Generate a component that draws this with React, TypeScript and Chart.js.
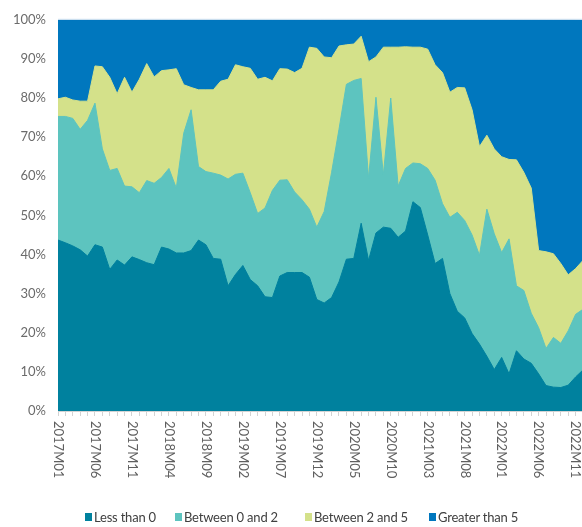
import React, { useEffect, useRef } from 'react';
import { Chart, registerables } from 'chart.js';

Chart.register(...registerables);

// Categories: monthly, 2017M01 .. 2022M12
const years = [2017, 2018, 2019, 2020, 2021, 2022];
const months: string[] = years.flatMap((y) =>
  Array.from({ length: 12 }, (_, m) => `${y}M${String(m + 1).padStart(2, '0')}`)
);
const labelEvery = 5;

const seriesNames = ['Less than 0', 'Between 0 and 2', 'Between 2 and 5', 'Greater than 5'];
const seriesColors = ['#00819E', '#5DC4BF', '#D4E18A', '#0077BE'];

// Shares (%) of each bucket per month (sum to 100)
const lessThan0 = [
  43.7, 43.0, 42.2, 41.2, 39.6, 42.5, 41.9, 36.2, 38.6, 37.3, 39.4, 38.7,
  37.9, 37.4, 41.9, 41.4, 40.4, 40.4, 41.0, 43.7, 42.5, 39.0, 38.8, 32.0,
  34.9, 37.2, 33.6, 32.0, 29.2, 29.0, 34.5, 35.4, 35.4, 35.4, 34.2, 28.5,
  27.6, 29.0, 33.0, 38.8, 39.0, 48.0, 38.5, 45.5, 47.0, 46.7, 44.4, 46.0,
  53.5, 52.0, 45.0, 37.7, 39.0, 30.0, 25.5, 23.8, 19.8, 17.1, 14.0, 10.6,
  13.7, 9.5, 15.4, 13.3, 12.2, 9.5, 6.5, 6.1, 6.0, 6.6, 8.7, 10.5,
];
const between0and2 = [
  31.6, 32.3, 32.6, 30.8, 34.7, 36.2, 25.1, 25.3, 23.4, 20.2, 17.9, 17.1,
  21.0, 20.8, 17.8, 20.6, 16.6, 30.6, 36.0, 18.8, 18.7, 21.8, 21.5, 27.3,
  25.6, 23.6, 22.2, 18.5, 22.7, 27.4, 24.5, 23.7, 20.6, 18.6, 17.4, 18.5,
  23.4, 32.0, 39.0, 44.7, 45.5, 37.0, 21.0, 34.7, 13.4, 33.3, 13.1, 16.0,
  9.9, 11.2, 17.0, 21.3, 14.0, 19.5, 25.3, 24.9, 25.2, 22.7, 37.6, 34.7,
  26.8, 34.5, 16.6, 17.5, 12.8, 11.8, 9.5, 12.7, 11.3, 13.9, 16.0, 15.5,
];
const between2and5 = [
  4.5, 4.9, 4.7, 7.2, 4.9, 9.5, 21.0, 23.8, 19.1, 27.8, 24.2, 29.0,
  29.9, 27.2, 27.3, 25.2, 30.5, 12.4, 5.7, 19.6, 20.9, 21.3, 24.0, 25.5,
  28.0, 27.2, 31.8, 34.3, 33.4, 28.0, 28.5, 28.3, 30.5, 33.6, 41.4, 45.7,
  39.5, 29.3, 21.3, 10.1, 9.3, 10.8, 29.8, 10.3, 32.6, 13.0, 35.5, 31.1,
  29.6, 29.8, 30.5, 29.5, 33.5, 32.0, 31.9, 33.9, 32.0, 27.8, 18.9, 21.7,
  24.5, 20.3, 32.2, 30.2, 32.0, 19.7, 24.7, 21.4, 20.4, 14.3, 11.7, 12.5,
];
const greaterThan5 = [
  20.2, 19.8, 20.5, 20.8, 20.8, 11.8, 12.0, 14.7, 18.9, 14.7, 18.5, 15.2,
  11.2, 14.6, 13.0, 12.8, 12.5, 16.6, 17.3, 17.9, 17.9, 17.9, 15.7, 15.2,
  11.5, 12.0, 12.4, 15.2, 14.7, 15.6, 12.5, 12.6, 13.5, 12.4, 7.0, 7.3,
  9.5, 9.7, 6.7, 6.4, 6.2, 4.2, 10.7, 9.5, 7.0, 7.0, 7.0, 6.9,
  7.0, 7.0, 7.5, 11.5, 13.5, 18.5, 17.3, 17.4, 23.0, 32.4, 29.5, 33.0,
  35.0, 35.7, 35.8, 39.0, 43.0, 59.0, 59.3, 59.8, 62.3, 65.2, 63.6, 61.5,
];

const series = [lessThan0, between0and2, between2and5, greaterThan5];

export default function App() {
  const ref = useRef<HTMLCanvasElement>(null);

  useEffect(() => {
    const canvas = ref.current;
    if (!canvas) return;

    const monthLabels = {
      id: 'monthLabels',
      afterDraw(chart: any) {
        const { ctx, chartArea, scales } = chart;
        const xs = scales.x;
        ctx.save();
        ctx.font = '13px Lato';
        ctx.fillStyle = '#5f5f5f';
        ctx.textAlign = 'left';
        ctx.textBaseline = 'middle';
        months.forEach((m, i) => {
          if (i % labelEvery !== 0) return;
          const x = xs.getPixelForValue(i);
          ctx.save();
          ctx.translate(x, chartArea.bottom + 10);
          ctx.rotate(Math.PI / 2);
          ctx.fillText(m, 0, 0);
          ctx.restore();
        });
        ctx.restore();
      },
    };

    const topLine = {
      id: 'topLine',
      afterDatasetsDraw(chart: any) {
        const { ctx, chartArea } = chart;
        ctx.save();
        ctx.strokeStyle = '#c9dded';
        ctx.lineWidth = 1;
        ctx.beginPath();
        ctx.moveTo(chartArea.left, chartArea.top - 0.5);
        ctx.lineTo(chartArea.right, chartArea.top - 0.5);
        ctx.stroke();
        ctx.restore();
      },
    };

    const chart = new Chart(canvas, {
      type: 'line',
      data: {
        labels: months,
        datasets: series.map((d, i) => ({
          label: seriesNames[i],
          data: d,
          backgroundColor: seriesColors[i],
          borderColor: seriesColors[i],
          borderWidth: 1,
          pointRadius: 0,
          pointHoverRadius: 0,
          fill: 'origin',
          tension: 0,
        })),
      },
      options: {
        responsive: false,
        animation: false,
        events: [],
        layout: { padding: { top: 15, right: 17, bottom: 111, left: 0 } },
        plugins: {
          legend: { display: false },
          tooltip: { enabled: false },
        },
        scales: {
          x: {
            type: 'category',
            offset: false,
            ticks: { display: false, autoSkip: false },
            grid: {
              display: true,
              drawOnChartArea: false,
              drawTicks: true,
              tickLength: 5,
              color: '#d3d3d3',
            },
            border: { display: true, color: '#d3d3d3' },
          },
          y: {
            stacked: true,
            min: 0,
            max: 100,
            ticks: {
              stepSize: 10,
              padding: 12,
              color: '#6b6b6b',
              font: { family: 'Lato', size: 13 },
              callback: (v: any) => `${v}%`,
            },
            grid: { display: false, drawTicks: false },
            border: { display: false },
            afterFit: (s: any) => {
              s.width = 58;
            },
          },
        },
      } as any,
      plugins: [monthLabels, topLine],
    });

    return () => chart.destroy();
  }, []);

  const legendLefts = [85, 175, 305, 429];

  return (
    <div
      style={{
        position: 'fixed',
        left: 0,
        top: 0,
        width: 582,
        height: 527,
        overflow: 'hidden',
        background: '#ffffff',
      }}
    >
      <canvas ref={ref} width={600} height={527} style={{ position: 'absolute', left: 0, top: 0 }} />
      <div
        style={{
          position: 'absolute',
          left: 0,
          top: 509,
          width: 582,
          height: 16,
          fontFamily: 'Lato',
          fontSize: 13,
          color: '#404040',
        }}
      >
        {seriesNames.map((n, i) => (
          <div
            key={n}
            style={{
              position: 'absolute',
              left: legendLefts[i],
              top: 0,
              display: 'flex',
              alignItems: 'center',
              whiteSpace: 'nowrap',
              lineHeight: '16px',
              letterSpacing: '-0.2px',
            }}
          >
            <span
              style={{
                display: 'inline-block',
                width: 7,
                height: 8,
                background: seriesColors[i],
                marginRight: 2,
              }}
            />
            {n}
          </div>
        ))}
      </div>
    </div>
  );
}
